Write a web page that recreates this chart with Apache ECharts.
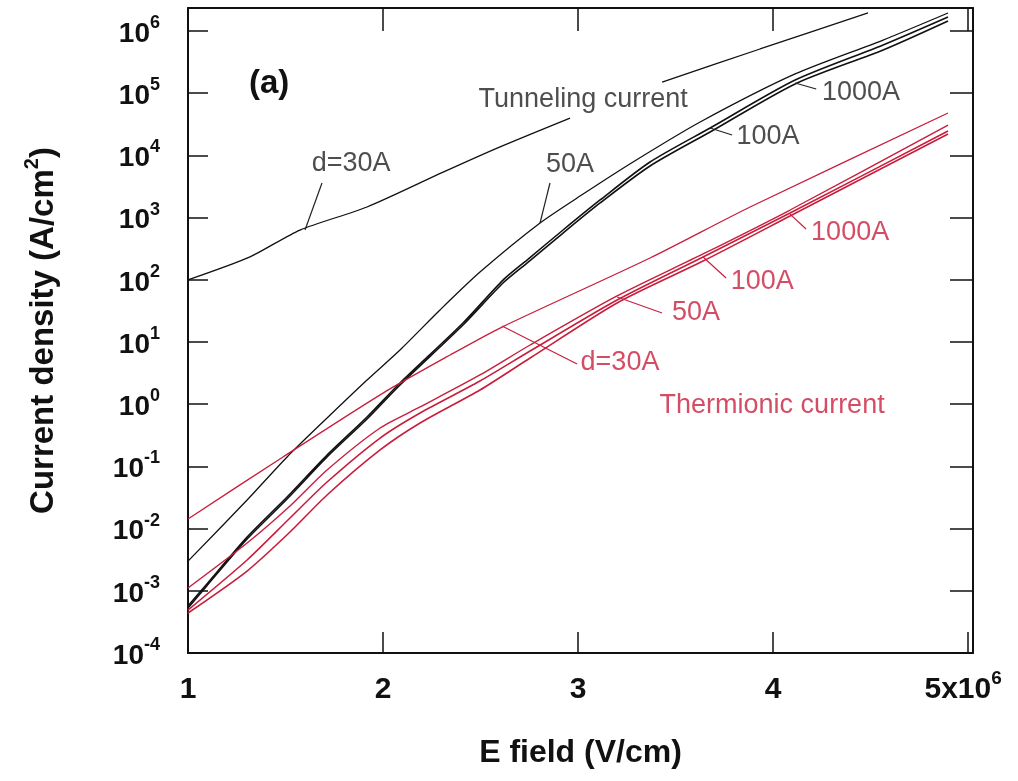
<!DOCTYPE html>
<html>
<head>
<meta charset="utf-8">
<script src="https://cdn.jsdelivr.net/npm/echarts@6/dist/echarts.min.js"></script>
<style>
html,body{margin:0;padding:0;background:#fff;}
#chart{width:1018px;height:781px;}
</style>
</head>
<body>
<div id="chart"></div>
<script>
// ---------- data (E field in units of 1e6 V/cm, J in A/cm^2) ----------
// Tunneling current (black)
const tun30_E   = [1.000, 1.318, 1.574, 1.918, 2.308, 2.600, 2.959, 3.200, 3.431, 3.933, 4.487];
const tun30_J   = [1.0e2, 2.34e2, 6.31e2, 1.48e3, 5.37e3, 1.37e4, 3.98e4, null, 1.51e5, 5.14e5, 1.95e6];
const tun50_E   = [1.000, 1.303, 1.508, 1.713, 1.918, 2.087, 2.292, 2.497, 2.805, 3.026, 3.282, 3.626, 4.113, 4.564, 4.897];
const tun50_J   = [3.0e-3, 2.88e-2, 0.142, 0.600, 2.45, 7.43, 32.7, 133, 819, 2.39e3, 7.83e3, 3.44e4, 2.04e5, 7.16e5, 1.95e6];
const tun100_E  = [1.000, 1.097, 1.303, 1.508, 1.713, 1.918, 2.087, 2.410, 2.615, 2.738, 2.923, 3.113, 3.369, 3.677, 4.113, 4.564, 4.897];
const tun100_J  = [5.7e-4, 1.29e-3, 7.3e-3, 3.22e-2, 0.152, 0.622, 2.19, 20.2, 99, 208, 632, 1.92e3, 7.83e3, 2.76e4, 1.63e5, 5.96e5, 1.68e6];
const tun1000_E = [1.000, 1.097, 1.303, 1.508, 1.713, 1.918, 2.087, 2.410, 2.615, 2.738, 2.923, 3.113, 3.369, 3.677, 4.113, 4.564, 4.897];
const tun1000_J = [5.3e-4, 1.21e-3, 6.8e-3, 2.99e-2, 0.142, 0.578, 2.04, 18.8, 88.9, 186, 565, 1.72e3, 6.76e3, 2.38e4, 1.41e5, 4.95e5, 1.45e6];
// Thermionic current (red)
const th30_E    = [1.000, 1.487, 2.000, 2.344, 2.610, 3.369, 3.882, 4.897];
const th30_J    = [1.43e-2, 0.142, 1.51, 6.18, 17.4, 224, 1.48e3, 4.81e4];
const th50_E    = [1.000, 1.303, 1.523, 1.713, 1.985, 2.190, 2.497, 2.754, 3.200, 3.641, 4.087, 4.897];
const th50_J    = [1.11e-3, 5.86e-3, 2.31e-2, 8.75e-2, 0.414, 0.902, 2.95, 8.95, 55.0, 260, 1.325e3, 3.08e4];
const th100_E   = [1.000, 1.303, 1.523, 1.713, 1.985, 2.190, 2.497, 2.754, 3.200, 3.641, 4.087, 4.897];
const th100_J   = [4.91e-4, 3.13e-3, 1.48e-2, 5.61e-2, 0.286, 0.723, 2.36, 7.16, 47.3, 233, 1.186e3, 2.47e4];
const th1000_E  = [1.000, 1.303, 1.523, 1.713, 1.985, 2.190, 2.497, 2.754, 3.200, 3.641, 4.087, 4.897];
const th1000_J  = [4.40e-4, 2.08e-3, 8.81e-3, 3.47e-2, 0.184, 0.499, 1.69, 5.53, 42.4, 200, 1.06e3, 2.21e4];

// annotations
const noteText  = ['d=30A', '50A', 'Tunneling current', '100A', '1000A', '1000A', '100A', '50A', 'd=30A', 'Thermionic current'];
const noteE     = [1.836, 2.959, 3.026, 3.974, 4.451, 4.395, 3.944, 3.605, 3.215, 3.995];
const noteJ     = [7.28e3, 7.01e3, 7.78e4, 1.98e4, 1.007e5, 565, 92.2, 29.3, 4.59, 0.935];
const noteGroup = ['k', 'k', 'k', 'k', 'k', 'r', 'r', 'r', 'r', 'r'];
const leadE     = [[1.687, 1.600], [2.856, 2.805], [3.677, 3.790], [4.113, 4.221], [4.087, 4.169], [3.641, 3.759], [3.200, 3.431], [2.610, 2.995]];
const leadJ     = [[3600, 632], [3600, 819], [2.76e4, 2.13e4], [1.46e5, 1.17e5], [1140, 656], [233, 107], [52.9, 29.3], [18.1, 4.43]];
const leadGroup = ['k', 'k', 'k', 'k', 'r', 'r', 'r', 'r'];

// axis settings
const xMin = 1, xMax = 5.025, xStep = 1;
const yMin = 1e-4, yMax = Math.pow(10, 6.37);

const FONT = "'Liberation Sans', Arial, Helvetica, sans-serif";
const BLACK = '#111111';
const RED = '#c81e3c';
const REDTXT = '#c8203f';

function pairs(E, J) {
  return E.map((e, i) => (J[i] == null ? [e, '-'] : [e, J[i]]));
}

function lineSeries(name, E, J, color, width) {
  return {
    name: name, type: 'line', data: pairs(E, J), smooth: 0.25, showSymbol: false,
    symbol: 'none', connectNulls: false, silent: true,
    lineStyle: {color: color, width: width}, z: 3
  };
}

function yFmt(v) {
  const l = Math.log10(v);
  const n = Math.round(l);
  if (Math.abs(l - n) > 1e-6) return '';
  return '{b|10}{s|' + n + '}';
}
function xFmt(v) {
  if (Math.abs(v - Math.round(v)) > 1e-6) return '';
  if (Math.round(v) === 5) return '{b|5x10}{s5|6}';
  return '{b|' + Math.round(v) + '}{s|\u200b}';
}

const yRich = {
  b: {fontSize: 28, fontWeight: 'bold', fontFamily: FONT, color: BLACK, verticalAlign: 'bottom'},
  s: {fontSize: 18, fontWeight: 'bold', fontFamily: FONT, color: BLACK, verticalAlign: 'bottom', padding: [0, 0, 16, 0]}
};
const xRich = {
  b: {fontSize: 30, fontWeight: 'bold', fontFamily: FONT, color: BLACK, verticalAlign: 'bottom'},
  s: {fontSize: 19, fontWeight: 'bold', fontFamily: FONT, color: BLACK, verticalAlign: 'bottom', padding: [0, 0, 17, 0]},
  s5: {fontSize: 19, fontWeight: 'bold', fontFamily: FONT, color: BLACK, verticalAlign: 'bottom', padding: [0, 10, 17, 0]}
};

const noteData = { k: [], r: [] };
noteText.forEach((t, i) => {
  noteData[noteGroup[i]].push({name: t, value: [noteE[i], noteJ[i]]});
});
const leadData = { k: [], r: [] };
leadE.forEach((e, i) => {
  leadData[leadGroup[i]].push([{coord: [e[0], leadJ[i][0]]}, {coord: [e[1], leadJ[i][1]]}]);
});

function noteSeries(g, color) {
  return {
    type: 'scatter', data: noteData[g], symbolSize: 1, silent: true,
    itemStyle: {color: 'rgba(0,0,0,0)'}, z: 5,
    label: {show: true, position: 'inside', formatter: p => p.name,
            fontSize: 27, fontFamily: FONT, color: color},
    markLine: {
      silent: true, symbol: ['none', 'none'], label: {show: false},
      lineStyle: {color: color, width: 1.2, type: 'solid'},
      data: leadData[g], animation: false
    }
  };
}

const chart = echarts.init(document.getElementById('chart'), null, {renderer: 'canvas'});
chart.setOption({
  animation: false,
  backgroundColor: '#ffffff',
  title: {
    text: '(a)', left: 244, top: 62,
    textStyle: {fontSize: 33, fontWeight: 'bold', fontFamily: FONT, color: BLACK}
  },
  grid: {left: 188, right: 45, top: 8, bottom: 128, containLabel: false},
  xAxis: [
    {
      type: 'value', min: xMin, max: xMax, interval: xStep, position: 'bottom',
      axisLine: {show: true, onZero: false, lineStyle: {color: BLACK, width: 2}},
      axisTick: {show: true, inside: true, length: 21, lineStyle: {color: BLACK, width: 1.5}},
      splitLine: {show: false},
      axisLabel: {formatter: xFmt, margin: 16, rich: xRich},
      name: 'E field (V/cm)', nameLocation: 'middle', nameGap: 84,
      nameTextStyle: {fontSize: 32, fontWeight: 'bold', fontFamily: FONT, color: BLACK}
    },
    {
      type: 'value', min: xMin, max: xMax, interval: xStep, position: 'top',
      axisLine: {show: true, onZero: false, lineStyle: {color: BLACK, width: 2}},
      axisTick: {show: true, inside: true, length: 23, lineStyle: {color: BLACK, width: 1.5}},
      splitLine: {show: false}, axisLabel: {show: false}
    }
  ],
  yAxis: [
    {
      type: 'log', logBase: 10, min: yMin, max: yMax, interval: 1, position: 'left',
      axisLine: {show: true, onZero: false, lineStyle: {color: BLACK, width: 2}},
      axisTick: {show: true, inside: true, length: 20, lineStyle: {color: BLACK, width: 1.5}},
      splitLine: {show: false}, minorTick: {show: false},
      axisLabel: {formatter: yFmt, margin: 28, rich: yRich},
      name: '{t|Current density (A/cm}{s|2}{t|)}', nameLocation: 'middle', nameGap: 128,
      nameTextStyle: {
        rich: {
          t: {fontSize: 33, fontWeight: 'bold', fontFamily: FONT, color: BLACK, verticalAlign: 'bottom'},
          s: {fontSize: 20, fontWeight: 'bold', fontFamily: FONT, color: BLACK, verticalAlign: 'bottom', padding: [0, 0, 18, 0]}
        }
      }
    },
    {
      type: 'log', logBase: 10, min: yMin, max: yMax, interval: 1, position: 'right',
      axisLine: {show: true, onZero: false, lineStyle: {color: BLACK, width: 2}},
      axisTick: {show: true, inside: true, length: 23, lineStyle: {color: BLACK, width: 1.5}},
      splitLine: {show: false}, axisLabel: {show: false}
    }
  ],
  series: [
    lineSeries('tun30', tun30_E, tun30_J, BLACK, 1.3),
    lineSeries('tun50', tun50_E, tun50_J, BLACK, 1.3),
    lineSeries('tun100', tun100_E, tun100_J, BLACK, 1.6),
    lineSeries('tun1000', tun1000_E, tun1000_J, BLACK, 1.6),
    lineSeries('th30', th30_E, th30_J, RED, 1.3),
    lineSeries('th50', th50_E, th50_J, RED, 1.4),
    lineSeries('th100', th100_E, th100_J, RED, 1.6),
    lineSeries('th1000', th1000_E, th1000_J, RED, 1.6),
    noteSeries('k', '#222222'),
    noteSeries('r', REDTXT)
  ]
});
</script>
</body>
</html>
